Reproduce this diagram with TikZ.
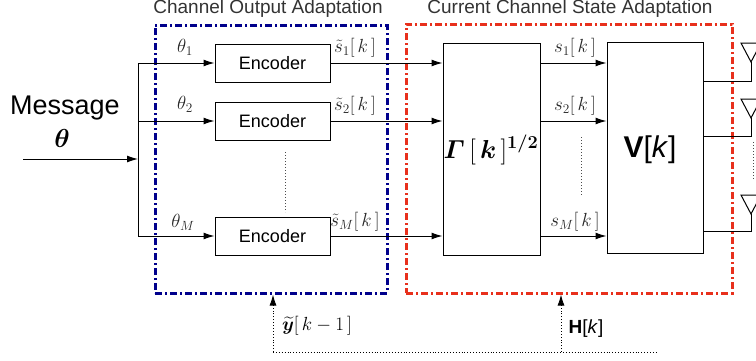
\RequirePackage{fix-cm}
\documentclass[tikz,border=0pt]{standalone}
\usepackage{amsmath}
\usepackage{bm}
\usepackage{fontspec}
\setsansfont{Liberation Sans}
\usepackage{tikz}
\usetikzlibrary{arrows, arrows.meta, positioning}
\tikzset{>={Latex[length=11pt,width=7pt]}}
\tikzset{
  blockbox/.style={draw, line width=1pt, inner sep=0pt},
  encbox/.style={blockbox, minimum width=115pt, minimum height=38pt, font=\sffamily\fontsize{18}{20}\selectfont},
  mlabel/.style={font=\fontsize{19}{21}\selectfont, text=black!85},
  sepdots/.style={dotted, line width=1pt, black!70},
  fbline/.style={dotted, line width=0.9pt}
}

\begin{document}
\begin{tikzpicture}[x=1pt, y=-1pt, line width=1pt]
\useasboundingbox (0,0) rectangle (756,360);

\node[draw=blue!55!black, line width=3pt, dash pattern=on 7pt off 3pt on 2pt off 3pt,
  minimum width=232pt, minimum height=268pt] (COA) at (271,159) {};
\node[draw={rgb,255:red,232;green,48;blue,28}, line width=3pt, dash pattern=on 7pt off 3pt on 2pt off 3pt,
  minimum width=326pt, minimum height=269pt] (CSA) at (569,158.5) {};
\node[font=\sffamily\fontsize{19}{21}\selectfont, text=black!80] (tCOA) at (268,9) {Channel Output Adaptation};
\node[font=\sffamily\fontsize{19}{21}\selectfont, text=black!80] (tCSA) at (570,9) {Current Channel State Adaptation};

\node[font=\sffamily\fontsize{27}{30}\selectfont] (msg) at (65,108) {Message};
\node[font=\fontsize{26}{28}\selectfont] (theta) at (62,138) {$\bm{\theta}$};

\node[encbox] (E1) at (272.5,63) {Encoder};
\node[encbox] (E2) at (272.5,121) {Encoder};
\node[encbox] (EM) at (272.5,236) {Encoder};

\node[blockbox, minimum width=97pt, minimum height=212pt] (G) at (491.5,149) {};
\node[blockbox, minimum width=96pt, minimum height=211pt] (V) at (655,148) {};
\node[font=\fontsize{26}{28}\selectfont] (Gt) at (491,150) {$\bm{\varGamma}\,[\,\bm{k}\,]^{\bm{1/2}}$};
\node[font=\sffamily\fontsize{30}{32}\selectfont] (Vt) at (650,150) {\textbf{V}[\textit{k}]};

\coordinate (in) at (23,159);
\coordinate (bus) at (138,159);
\coordinate (b1) at (138,63);
\coordinate (b2) at (138,121);
\coordinate (bM) at (138,236);
\draw [->] (in)--(bus);
\draw (b1)--(bM);
\draw [->] (b1)--(E1);
\draw [->] (b2)--(E2);
\draw [->] (bM)--(EM);

\node[mlabel] (th1) at (185,47) {$\theta_1$};
\node[mlabel] (th2) at (185,104) {$\theta_2$};
\node[mlabel] (thM) at (183,222) {$\theta_M$};

\draw [->] (E1.east)--(E1.east -| G.west);
\draw [->] (E2.east)--(E2.east -| G.west);
\draw [->] (EM.east)--(EM.east -| G.west);
\node[mlabel] (st1) at (355,48) {$\tilde{s}_1[\,k\,]$};
\node[mlabel] (st2) at (355,106) {$\tilde{s}_2[\,k\,]$};
\node[mlabel] (stM) at (355,222) {$\tilde{s}_M[\,k\,]$};

\draw [->] (E1.east -| G.east)--(E1.east -| V.west);
\draw [->] (E2.east -| G.east)--(E2.east -| V.west);
\draw [->] (EM.east -| G.east)--(EM.east -| V.west);
\node[mlabel] (s1) at (575,48) {$s_1[\,k\,]$};
\node[mlabel] (s2) at (575,106) {$s_2[\,k\,]$};
\node[mlabel] (sM) at (575,222) {$s_M[\,k\,]$};

\draw [sepdots] (285,152)--(285,212);
\draw [sepdots] (581,137)--(581,195);
\draw [sepdots] (753,142)--(753,180);

\foreach \n/\y/\t in {1/81/43, 2/136/99, M/231/195}{
  \coordinate (ant\n) at (751,\y);
  \draw (ant\n -| V.east)--(ant\n)--(751,\t+19);
  \draw (741,\t)--(761,\t)--(751,\t+19)--cycle;
}

\coordinate (fbY) at (273,352);
\coordinate (fbH) at (561,352);
\draw [fbline] (fbY)--(657,352);
\draw [fbline, ->] (fbY)--(fbY |- COA.south);
\draw [fbline, ->] (fbH)--(fbH |- CSA.south);
\node[font=\fontsize{19}{21}\selectfont] (ylab) at (317,326) {$\widetilde{\bm{y}}[\,k-1\,]$};
\node[font=\sffamily\fontsize{19}{21}\selectfont] (hlab) at (586,329) {\textbf{H}[\textit{k}]};

\end{tikzpicture}
\end{document}
